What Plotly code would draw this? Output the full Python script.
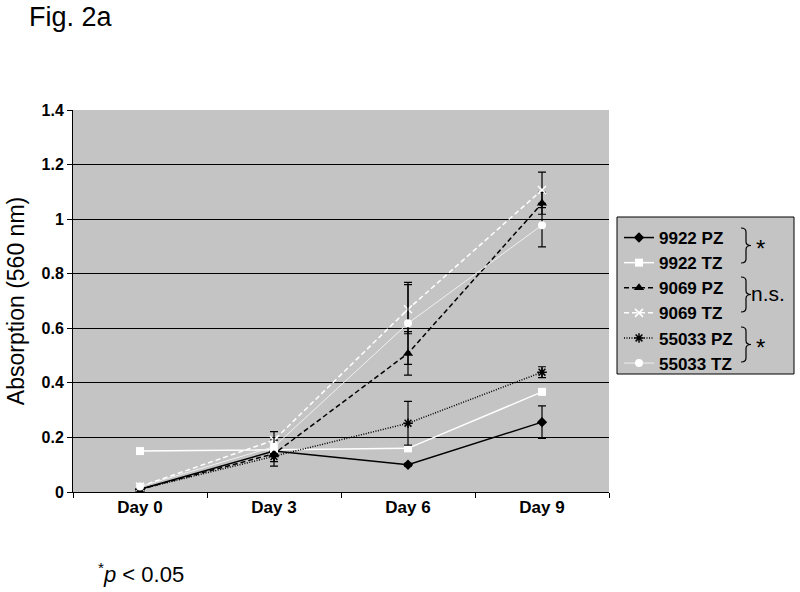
import plotly.graph_objects as go

days = ["Day 0", "Day 3", "Day 6", "Day 9"]
tick_vals = [0, 0.2, 0.4, 0.6, 0.8, 1.0, 1.2, 1.4]
tick_text = ["0", "0.2", "0.4", "0.6", "0.8", "1", "1.2", "1.4"]

names = ["9922 PZ", "9922 TZ", "9069 PZ", "9069 TZ", "55033 PZ", "55033 TZ"]
v_9922_pz = [0.01, 0.15, 0.10, 0.256]
v_9922_tz = [0.15, 0.155, 0.16, 0.367]
v_9069_pz = [0.01, 0.14, 0.508, 1.058]
v_9069_tz = [0.02, 0.19, 0.67, 1.107]
v_55033_pz = [0.01, 0.13, 0.252, 0.439]
v_55033_tz = [0.02, 0.166, 0.618, 0.978]

e_9922_pz = [0.0, 0.0, 0.005, 0.06]
e_9922_tz = [0.0, 0.0, 0.005, 0.008]
e_9069_pz = [0.0, 0.0, 0.08, 0.04]
e_9069_tz = [0.0, 0.0, 0.09, 0.065]
e_55033_pz = [0.0, 0.035, 0.08, 0.02]
e_55033_tz = [0.0, 0.055, 0.15, 0.08]

values = [v_9922_pz, v_9922_tz, v_9069_pz, v_9069_tz, v_55033_pz, v_55033_tz]
errors = [e_9922_pz, e_9922_tz, e_9069_pz, e_9069_tz, e_55033_pz, e_55033_tz]

styles = [
    dict(line=dict(color="black", width=1.5, dash="solid"),
         marker=dict(symbol="diamond", size=8, color="black")),
    dict(line=dict(color="white", width=1.5, dash="solid"),
         marker=dict(symbol="square", size=8, color="white")),
    dict(line=dict(color="black", width=1.5, dash="5px,3px"),
         marker=dict(symbol="triangle-up", size=9, color="black")),
    dict(line=dict(color="white", width=1.5, dash="5px,3px"),
         marker=dict(symbol="x-thin-open", size=8, color="white", line=dict(color="white", width=1.5))),
    dict(line=dict(color="black", width=1.5, dash="1px,1.5px"),
         marker=dict(symbol="asterisk-open", size=8, color="black", line=dict(color="black", width=1.5))),
    dict(line=dict(color="#f0f0f0", width=1, dash="solid"),
         marker=dict(symbol="circle", size=8, color="white")),
]

FONT = "Liberation Sans, Arial, sans-serif"
BG = "#c4c4c4"

fig = go.Figure()
for n, v, e, s in zip(names, values, errors, styles):
    fig.add_trace(go.Scatter(
        x=days, y=v, name="<b>" + n + "</b>", mode="lines+markers",
        line=s["line"], marker=s["marker"],
        error_y=dict(type="data", array=e, visible=True, color="black", thickness=1.2, width=4),
    ))

def px_x(p):
    return (p - 73) / 536.0

def px_y(p):
    return (492 - p) / 382.0

annotations = []
annotations.append(dict(text="Fig. 2a", xref="paper", yref="paper", x=px_x(27), y=px_y(17),
                        xanchor="left", yanchor="middle", showarrow=False,
                        font=dict(family=FONT, size=27, color="black")))
annotations.append(dict(text="<sup>*</sup><i>p</i> < 0.05", xref="paper", yref="paper",
                        x=px_x(96), y=px_y(573), xanchor="left", yanchor="middle", showarrow=False,
                        font=dict(family=FONT, size=22, color="black")))

shapes = [dict(type="rect", xref="paper", yref="paper", layer="below",
               x0=px_x(617), x1=px_x(794), y0=px_y(374), y1=px_y(217),
               fillcolor=BG, line=dict(color="black", width=1))]

# Braces grouping legend pairs, with significance marks
brace_spans = [(228, 263), (277, 312), (327, 362)]
marks = ["*", "n.s.", "*"]
for (b0, b1), m in zip(brace_spans, marks):
    x0, xm, xt = 741, 746, 751
    ym = (b0 + b1) / 2.0
    r = 4
    pts = [
        ("M", x0, b0), ("Q", xm, b0, xm, b0 + r), ("L", xm, ym - r),
        ("Q", xm, ym, xt, ym), ("Q", xm, ym, xm, ym + r), ("L", xm, b1 - r),
        ("Q", xm, b1, x0, b1),
    ]
    path = ""
    for p in pts:
        cmd = p[0]
        coords = p[1:]
        parts = []
        for i in range(0, len(coords), 2):
            parts.append("%.5f,%.5f" % (px_x(coords[i]), px_y(coords[i + 1])))
        path += cmd + " " + " ".join(parts) + " "
    shapes.append(dict(type="path", xref="paper", yref="paper", path=path.strip(),
                       line=dict(color="black", width=1.2)))
    if m == "*":
        annotations.append(dict(text="*", xref="paper", yref="paper", x=px_x(754), y=px_y(ym + 3),
                                xanchor="left", yanchor="middle", showarrow=False,
                                font=dict(family=FONT, size=24, color="black")))
    else:
        annotations.append(dict(text="n.s.", xref="paper", yref="paper", x=px_x(749), y=px_y(ym - 1),
                                xanchor="left", yanchor="middle", showarrow=False,
                                font=dict(family=FONT, size=21, color="black")))

fig.update_layout(
    width=800, height=592,
    margin=dict(l=73, r=191, t=110, b=100),
    paper_bgcolor="white",
    plot_bgcolor=BG,
    font=dict(family=FONT, color="black"),
    showlegend=True,
    legend=dict(
        x=px_x(619), y=px_y(220), xanchor="left", yanchor="top",
        bgcolor="rgba(0,0,0,0)", borderwidth=0,
        font=dict(family=FONT, size=17, color="black"),
        itemwidth=30, tracegroupgap=0,
    ),
    annotations=annotations,
    shapes=shapes,
    xaxis=dict(
        type="category", range=[-0.5, 3.5], showgrid=False,
        showline=True, linecolor="black", linewidth=1,
        ticks="outside", tickson="boundaries", ticklen=5, tickcolor="black",
        tickfont=dict(family=FONT, size=17, color="black"),
        tickvals=days, ticktext=["<b>" + d + "</b>" for d in days],
    ),
    yaxis=dict(
        range=[0, 1.4], tickvals=tick_vals, ticktext=["<b>" + t + "</b>" for t in tick_text],
        showgrid=True, gridcolor="black", gridwidth=1,
        showline=True, linecolor="black", linewidth=1,
        ticks="outside", ticklen=5, tickcolor="black",
        tickfont=dict(family=FONT, size=16, color="black"),
        title=dict(text="Absorption (560 nm)", font=dict(family=FONT, size=23, color="black"), standoff=10),
        zeroline=False, automargin=False,
    ),
)

fig.write_html("out.html", config={"displayModeBar": False},
               post_script="document.body.style.margin='0px';")
